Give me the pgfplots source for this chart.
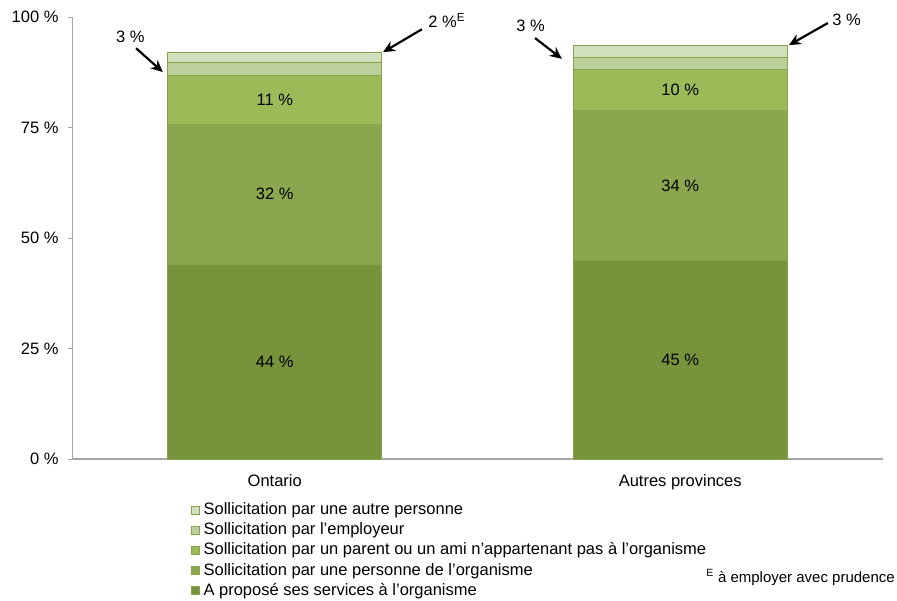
\documentclass[border=0pt]{standalone}
\usepackage{pgfplots}
\pgfplotsset{compat=1.18}
\usepackage{fontspec}
\setmainfont{Liberation Sans}
\usetikzlibrary{arrows.meta}
\definecolor{c1}{HTML}{77933C}
\definecolor{c2}{HTML}{8AA64F}
\definecolor{c3}{HTML}{9BBB59}
\definecolor{c4}{HTML}{BBD09A}
\definecolor{c5}{HTML}{D3E0BF}
\definecolor{edge}{HTML}{86A44A}
\definecolor{axgray}{HTML}{A6A6A6}
\begin{document}
\begin{tikzpicture}[font=\fontsize{16.5}{19.5}\selectfont]
\useasboundingbox (-72pt,-141pt) rectangle (825pt,459pt);
\begin{axis}[
  at={(0pt,0pt)}, anchor=south west,
  scale only axis, width=811pt, height=441.7pt,
  ybar stacked, bar width=0.528,
  xmin=-0.5, xmax=1.5, ymin=0, ymax=100,
  xtick={0,1}, xticklabels={Ontario, Autres provinces},
  ytick={0,25,50,75,100}, yticklabels={0 \%,25 \%,50 \%,75 \%,100 \%},
  axis x line*=bottom, axis y line*=left,
  x axis line style={draw=axgray, line width=1.5pt, -},
  y axis line style={draw=axgray, line width=0.8pt, -},
  xtick style={draw=none},
  ytick style={draw=axgray, line width=0.8pt},
  tick align=outside, major tick length=4pt,
  xticklabel style={yshift=-8pt},
  yticklabel style={xshift=-6pt},
  clip=false,
  reverse legend,
  legend style={at={(0.1467,-0.099)}, anchor=north west, draw=none, fill=none,
    inner sep=0pt, outer sep=0pt, row sep=4.6pt, column sep=4pt,
    nodes={inner sep=0pt, text height=12pt, text depth=3.5pt, anchor=base west},
    font=\fontsize{16.5}{19.5}\selectfont},
  legend cell align=left,
  legend image code/.code={\draw[#1, line width=0.6pt] (0pt,0.5pt) rectangle (8pt,8.5pt);},
  every axis plot/.append style={draw=edge, line width=0.7pt},
]
\addplot[fill=c1, draw=edge] coordinates {(0,44.1) (1,45.0)};
\addlegendentry{A proposé ses services à l’organisme}
\addplot[fill=c2, draw=edge] coordinates {(0,31.7) (1,33.9)};
\addlegendentry{Sollicitation par une personne de l’organisme}
\addplot[fill=c3, draw=edge] coordinates {(0,11.0) (1,9.3)};
\addlegendentry{Sollicitation par un parent ou un ami n’appartenant pas à l’organisme}
\addplot[fill=c4, draw=edge] coordinates {(0,2.9) (1,2.7)};
\addlegendentry{Sollicitation par l’employeur}
\addplot[fill=c5, draw=edge] coordinates {(0,2.3) (1,2.8)};
\addlegendentry{Sollicitation par une autre personne}

\coordinate (l1) at (axis cs:0,22.05);
\coordinate (l2) at (axis cs:0,59.95);
\coordinate (l3) at (axis cs:0,81.3);
\coordinate (l4) at (axis cs:1,22.5);
\coordinate (l5) at (axis cs:1,61.95);
\coordinate (l6) at (axis cs:1,83.55);

\draw[-{Stealth[length=12pt,width=11pt]}, line width=2.2pt] (axis cs:-0.342,93.0) -- (axis cs:-0.276,87.6);
\node at (axis cs:-0.356,95.5) {3 \%};
\draw[-{Stealth[length=12pt,width=11pt]}, line width=2.2pt] (axis cs:0.363,97.3) -- (axis cs:0.267,92.1);
\node[anchor=west] at (axis cs:0.370,99.2) {2 \%\textsuperscript{E}};
\draw[-{Stealth[length=12pt,width=11pt]}, line width=2.2pt] (axis cs:0.642,95.3) -- (axis cs:0.708,90.6);
\node at (axis cs:0.631,98.0) {3 \%};
\draw[-{Stealth[length=12pt,width=11pt]}, line width=2.2pt] (axis cs:1.364,98.7) -- (axis cs:1.268,93.7);
\node at (axis cs:1.410,99.4) {3 \%};
\end{axis}
\node at (l1) {44 \%};
\node at (l2) {32 \%};
\node at (l3) {11 \%};
\node at (l4) {45 \%};
\node at (l5) {34 \%};
\node at (l6) {10 \%};
\node[anchor=base east, inner sep=0pt, font=\fontsize{15}{18}\selectfont] at (823pt,-123pt) {\textsuperscript{E} à employer avec prudence};
\end{tikzpicture}
\end{document}
